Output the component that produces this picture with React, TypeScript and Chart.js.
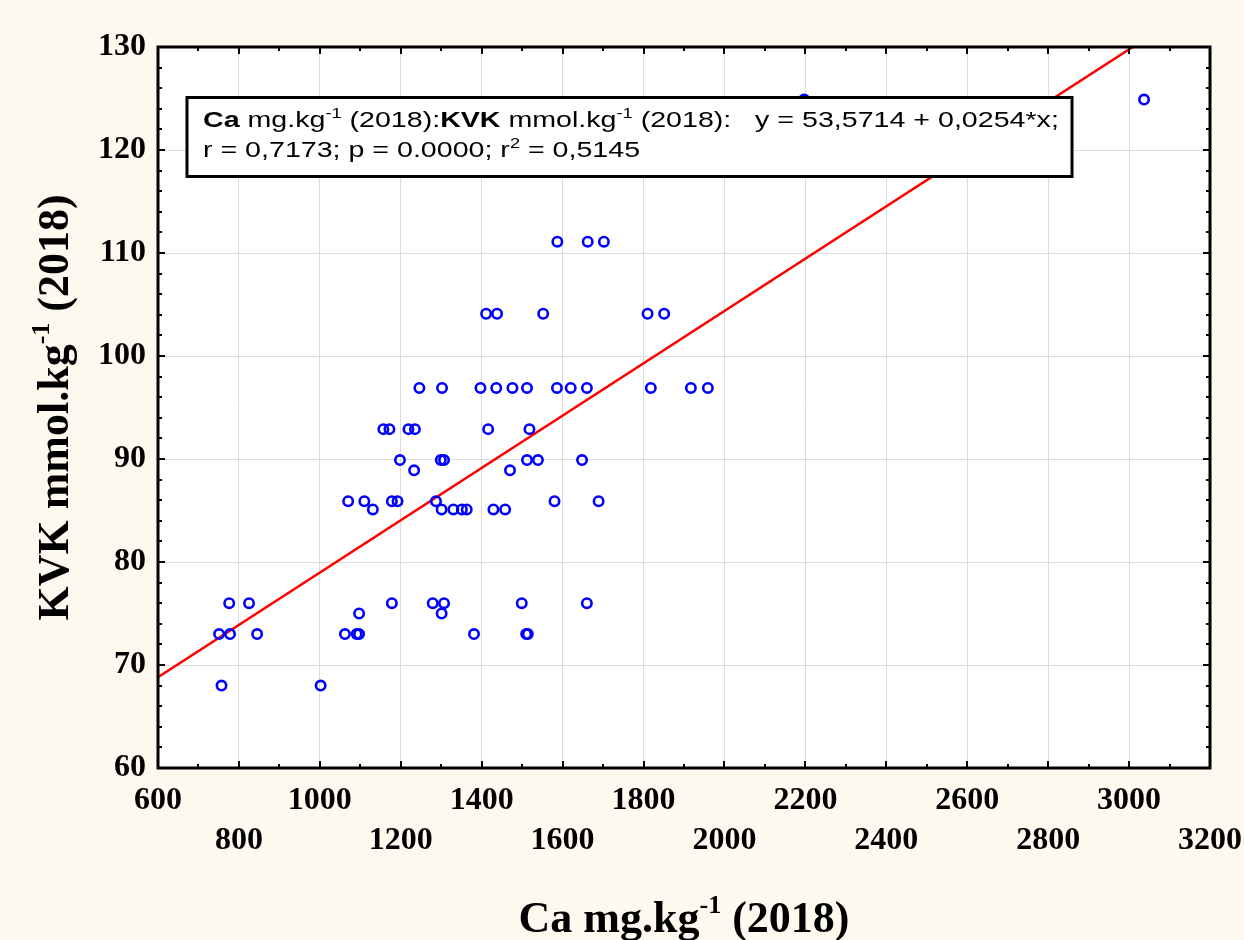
import React, { useEffect, useRef } from 'react';
import { Chart, registerables } from 'chart.js';

Chart.register(...registerables);

// ---- data ----
const caValues = [
  757, 1002,
  751, 778, 845, 1062, 1091, 1097, 1381, 1510, 1514,
  1097, 1301,
  776, 825, 1178, 1279, 1307, 1499, 1660,
  1131, 1301, 1330, 1351, 1363, 1429, 1458,
  1070, 1110, 1178, 1192, 1287, 1580, 1689,
  1233, 1470,
  1198, 1299, 1307, 1512, 1539, 1648,
  1157, 1172, 1219, 1235, 1416, 1518,
  1246, 1302, 1397, 1436, 1476, 1512, 1586, 1620, 1660, 1818, 1917, 1959,
  1411, 1438, 1552, 1810, 1851,
  1587, 1662, 1702,
  2197, 3037,
];
const kvkValues = [
  68, 68,
  73, 73, 73, 73, 73, 73, 73, 73, 73,
  75, 75,
  76, 76, 76, 76, 76, 76, 76,
  85.1, 85.1, 85.1, 85.1, 85.1, 85.1, 85.1,
  85.9, 85.9, 85.9, 85.9, 85.9, 85.9, 85.9,
  88.9, 88.9,
  89.9, 89.9, 89.9, 89.9, 89.9, 89.9,
  92.9, 92.9, 92.9, 92.9, 92.9, 92.9,
  96.9, 96.9, 96.9, 96.9, 96.9, 96.9, 96.9, 96.9, 96.9, 96.9, 96.9, 96.9,
  104.1, 104.1, 104.1, 104.1, 104.1,
  111.1, 111.1, 111.1,
  124.9, 124.9,
];

const INTERCEPT = 53.5714;
const SLOPE = 0.0254;
const R_VALUE = '0,7173';
const P_VALUE = '0.0000';
const R2_VALUE = '0,5145';

const X_MIN = 600;
const X_MAX = 3200;
const X_STEP = 200;
const X_MINOR = 100;
const Y_MIN = 60;
const Y_MAX = 130;
const Y_STEP = 10;
const Y_MINOR = 2;

const X_TITLE = [{ text: 'Ca mg.kg' }, { text: '-1', sup: true }, { text: ' (2018)' }];
const Y_TITLE = [{ text: 'KVK mmol.kg' }, { text: '-1', sup: true }, { text: ' (2018)' }];

const fmtComma = (v: number) => v.toFixed(4).replace('.', ',');

const LEGEND_LINE1 = [
  { text: 'Ca', bold: true },
  { text: ' mg.kg' },
  { text: '-1', sup: true },
  { text: ' (2018):' },
  { text: 'KVK', bold: true },
  { text: ' mmol.kg' },
  { text: '-1', sup: true },
  { text: ` (2018):   y = ${fmtComma(INTERCEPT)} + ${fmtComma(SLOPE)}*x;` },
];
const LEGEND_LINE2 = [
  { text: `r = ${R_VALUE}; p = ${P_VALUE}; r` },
  { text: '2', sup: true },
  { text: ` = ${R2_VALUE}` },
];

const BG = '#fdf9ee';
const SERIF = "'Liberation Serif', 'Times New Roman', serif";
const SANS = "'Liberation Sans', Arial, sans-serif";

type Seg = { text: string; bold?: boolean; sup?: boolean };
type RichOpts = {
  family: string;
  size: number;
  supSize: number;
  supRise: number;
  baseBold: boolean;
  spacing: number;
};

function segFont(s: Seg, o: RichOpts) {
  const bold = o.baseBold || s.bold;
  const size = s.sup ? o.supSize : o.size;
  return `${bold ? 'bold ' : ''}${size}px ${o.family}`;
}

function richWidth(ctx: CanvasRenderingContext2D, segs: Seg[], o: RichOpts) {
  let w = 0;
  for (const s of segs) {
    ctx.font = segFont(s, o);
    (ctx as any).letterSpacing = `${o.spacing}px`;
    w += ctx.measureText(s.text).width;
  }
  return w;
}

function drawRich(ctx: CanvasRenderingContext2D, segs: Seg[], x: number, y: number, o: RichOpts) {
  let cx = x;
  ctx.textAlign = 'left';
  ctx.textBaseline = 'alphabetic';
  for (const s of segs) {
    ctx.font = segFont(s, o);
    (ctx as any).letterSpacing = `${o.spacing}px`;
    ctx.fillText(s.text, cx, s.sup ? y - o.supRise : y);
    cx += ctx.measureText(s.text).width;
  }
  (ctx as any).letterSpacing = '0px';
}

const decorPlugin = {
  id: 'decor',
  beforeDraw(chart: any) {
    const { ctx, chartArea: a, width, height } = chart;
    ctx.save();
    ctx.fillStyle = BG;
    ctx.fillRect(0, 0, width, height);
    ctx.fillStyle = '#ffffff';
    ctx.fillRect(a.left, a.top, a.right - a.left, a.bottom - a.top);
    ctx.restore();
  },
  afterDatasetsDraw(chart: any) {
    const { ctx, chartArea: a } = chart;
    const xs = chart.scales.x;
    const ys = chart.scales.y;
    ctx.save();

    // legend / regression box
    const bx = a.left + 29;
    const by = a.top + 50.5;
    const bw = 885;
    const bh = 79;
    ctx.fillStyle = '#ffffff';
    ctx.fillRect(bx, by, bw, bh);
    ctx.lineWidth = 3;
    ctx.strokeStyle = '#000000';
    ctx.strokeRect(bx, by, bw, bh);
    ctx.fillStyle = '#000000';
    const lo: RichOpts = { family: SANS, size: 22, supSize: 14, supRise: 9, baseBold: false, spacing: 0 };
    const stretch = 1.3;
    ctx.save();
    ctx.translate(a.left + 45, 0);
    ctx.scale(stretch, 1);
    drawRich(ctx, LEGEND_LINE1, 0, a.top + 80, lo);
    drawRich(ctx, LEGEND_LINE2, 0, a.top + 110, lo);
    ctx.restore();

    // frame
    ctx.lineWidth = 3;
    ctx.strokeStyle = '#000000';
    ctx.strokeRect(a.left, a.top, a.right - a.left, a.bottom - a.top);

    // inward tick marks
    ctx.lineWidth = 2;
    ctx.beginPath();
    for (let v = X_MIN; v <= X_MAX; v += X_MINOR) {
      const px = Math.round(xs.getPixelForValue(v));
      const len = (v - X_MIN) % X_STEP === 0 ? 7 : 4;
      ctx.moveTo(px, a.bottom);
      ctx.lineTo(px, a.bottom - len);
      ctx.moveTo(px, a.top);
      ctx.lineTo(px, a.top + len);
    }
    for (let v = Y_MIN; v <= Y_MAX; v += Y_MINOR) {
      const py = Math.round(ys.getPixelForValue(v));
      const len = (v - Y_MIN) % Y_STEP === 0 ? 7 : 4;
      ctx.moveTo(a.left, py);
      ctx.lineTo(a.left + len, py);
      ctx.moveTo(a.right, py);
      ctx.lineTo(a.right - len, py);
    }
    ctx.stroke();

    // axis titles
    const to: RichOpts = { family: SERIF, size: 44, supSize: 26, supRise: 19, baseBold: true, spacing: 0 };
    ctx.fillStyle = '#000000';
    const xw = richWidth(ctx, X_TITLE, to);
    drawRich(ctx, X_TITLE, (a.left + a.right) / 2 - xw / 2, a.bottom + 164, to);
    const yw = richWidth(ctx, Y_TITLE, to);
    ctx.translate(68, (a.top + a.bottom) / 2);
    ctx.rotate(-Math.PI / 2);
    drawRich(ctx, Y_TITLE, -yw / 2, 0, to);
    ctx.restore();
  },
};

export default function App() {
  const ref = useRef<HTMLCanvasElement | null>(null);

  useEffect(() => {
    if (!ref.current) return;
    const points = caValues.map((x, i) => ({ x, y: kvkValues[i] }));
    const fitLine = [
      { x: X_MIN, y: INTERCEPT + SLOPE * X_MIN },
      { x: X_MAX, y: INTERCEPT + SLOPE * X_MAX },
    ];
    const chart = new Chart(ref.current, {
      type: 'scatter',
      data: {
        datasets: [
          {
            label: 'fit',
            type: 'line',
            data: fitLine,
            borderColor: '#ff0000',
            borderWidth: 2.5,
            pointRadius: 0,
            fill: false,
            order: 2,
          } as any,
          {
            label: 'KVK',
            data: points,
            pointStyle: 'circle',
            pointRadius: 4.7,
            borderColor: '#0000ff',
            backgroundColor: 'rgba(0,0,0,0)',
            borderWidth: 2.6,
            order: 1,
          },
        ],
      },
      options: {
        responsive: false,
        animation: false,
        layout: { padding: { left: 0, top: 47, right: 34, bottom: 0 } },
        plugins: { legend: { display: false }, tooltip: { enabled: false } },
        scales: {
          x: {
            type: 'linear',
            min: X_MIN,
            max: X_MAX,
            afterFit: (s: any) => {
              s.height = 172;
              s.paddingLeft = 0;
              s.paddingRight = 0;
            },
            ticks: {
              stepSize: X_STEP,
              autoSkip: false,
              maxRotation: 0,
              padding: 13,
              color: '#000000',
              font: { family: SERIF, size: 32, weight: 'bold', lineHeight: 1.25 },
              callback: (v: any) => (Number(v) % 400 === 0 ? ['', String(v)] : String(v)),
            },
            grid: { color: '#dcdcdc', lineWidth: 1, drawTicks: false },
            border: { display: false },
          },
          y: {
            type: 'linear',
            min: Y_MIN,
            max: Y_MAX,
            afterFit: (s: any) => {
              s.width = 158;
              s.paddingTop = 0;
              s.paddingBottom = 0;
            },
            ticks: {
              stepSize: Y_STEP,
              padding: 12,
              color: '#000000',
              font: { family: SERIF, size: 32, weight: 'bold' },
            },
            grid: { color: '#dcdcdc', lineWidth: 1, drawTicks: false },
            border: { display: false },
          },
        },
      },
      plugins: [decorPlugin],
    });
    return () => chart.destroy();
  }, []);

  return (
    <div style={{ position: 'absolute', left: 0, top: 0, width: 1244, height: 940, background: BG }}>
      <canvas ref={ref} width={1244} height={940} style={{ display: 'block' }} />
    </div>
  );
}
